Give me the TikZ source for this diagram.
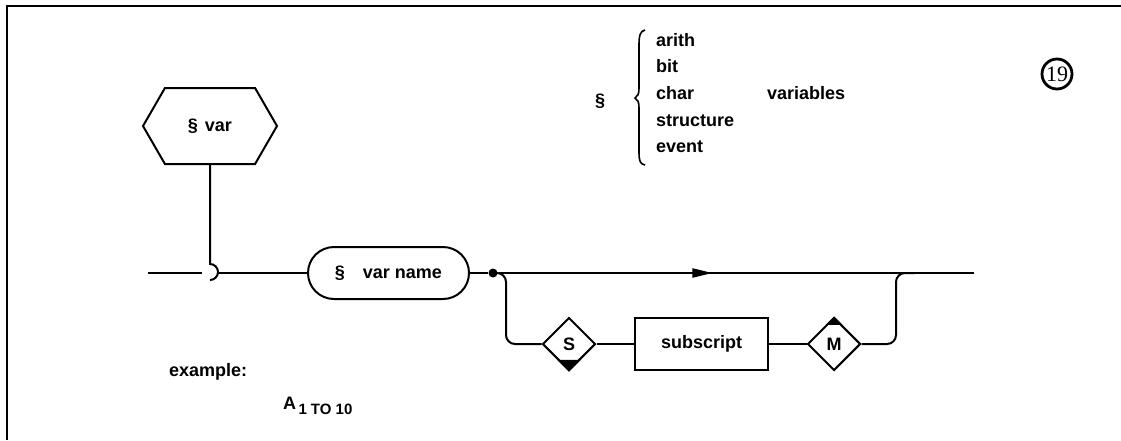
\documentclass[tikz,border=0pt]{standalone}
\usepackage{fontspec}
\setmainfont{Liberation Sans}
\newfontfamily\numfont{Liberation Serif}
\usetikzlibrary{shapes.geometric,shapes.symbols,calc,arrows.meta,decorations.markings}
\begin{document}
\begin{tikzpicture}[x=1pt,y=-1pt,line width=2pt,
  every node/.style={font=\fontsize{18}{21}\selectfont\bfseries},
  hexa/.style={shape=signal, signal to=west and east, signal pointer angle=120, draw, minimum width=134pt, minimum height=76pt, inner sep=0pt},
  termbox/.style={draw, rounded corners=26pt, minimum width=161pt, minimum height=52pt, inner sep=0pt},
  ntbox/.style={draw, minimum width=133pt, minimum height=52pt, inner sep=0pt},
  dia/.style={draw, diamond, minimum width=53pt, minimum height=53pt, inner sep=0pt},
  listitem/.style={anchor=base west, inner sep=0pt},
  midarrow/.style={postaction={decorate}, decoration={markings, mark=at position 0.45 with {\arrow{Triangle[length=20pt,width=9pt]}}}}
]
\useasboundingbox (0,0) rectangle (1121,440);
% frame
\draw[line width=2.4pt] (7,440) -- (7,6) -- (1121,6);

% header text
\node[inner sep=0pt] (sect) at (600,101) {§};
\draw[line width=1.6pt] (645,30) .. controls (640,31) and (639,36) .. (639,45) -- (639,88) .. controls (639,94) and (638,96) .. (635,98) .. controls (638,100) and (639,102) .. (639,108) -- (639,152) .. controls (639,161) and (640,164) .. (645,165);
\node[listitem] (arith) at (655,46) {arith};
\node[listitem] (bit) at (655,72) {bit};
\node[listitem] (char) at (655,99) {char};
\node[listitem] (struct) at (655,126) {structure};
\node[listitem] (event) at (655,152) {event};
\node[listitem] (vars) at (766,99) {variables};
\node[circle, draw, line width=2.8pt, minimum size=30pt, inner sep=0pt, font=\numfont\fontsize{22}{22}\selectfont] (num) at (1057,74) {19};

% diagram
\node[hexa] (var) at (210,126) {§\hspace{7pt}var};
\node[termbox] (vn) at (388.5,273) {§\hspace{18pt}var name};
\node[circle, fill, inner sep=0pt, minimum size=9pt] (dot) at (493,273) {};
\node[dia] (S) at (569,344) {S};
\node[ntbox] (sub) at (701.5,344) {subscript};
\node[dia] (M) at (834,344) {M};

\coordinate (start) at (148,273);
\coordinate (hookL) at (202,273);
\coordinate (hookR) at (218,273);
\coordinate (hooktop) at (210,264);
\coordinate (end) at (974,273);
\coordinate (jr) at (896,273);
\coordinate (jr2) at (915,273);
\coordinate (bl) at (506,344);

\draw (var.south) -- (hooktop) arc[start angle=90, end angle=-90, radius=8pt];
\draw (start) -- (hookL);
\draw (hookR) -- (vn.west);
\draw (vn.east) -- (dot);
\draw[midarrow] (dot) -- (end);
\draw[rounded corners=9pt] (dot.center) -| (bl) -- (S.west);
\draw (S.east) -- (sub.west);
\draw (sub.east) -- (M.west);
\draw[rounded corners=9pt] (M.east) -| (jr) -- (jr2);

\fill (S.south) -- ($(S.south)!.42!(S.west)$) -- ($(S.south)!.42!(S.east)$) -- cycle;
\fill (M.north) -- ($(M.north)!.3!(M.west)$) -- ($(M.north)!.3!(M.east)$) -- cycle;

% example
\node[listitem] (ex) at (168,376) {example:};
\node[listitem] (ax) at (282,409) {A\raisebox{-5pt}{\fontsize{15}{15}\selectfont\,1 TO 10}};
\end{tikzpicture}
\end{document}
